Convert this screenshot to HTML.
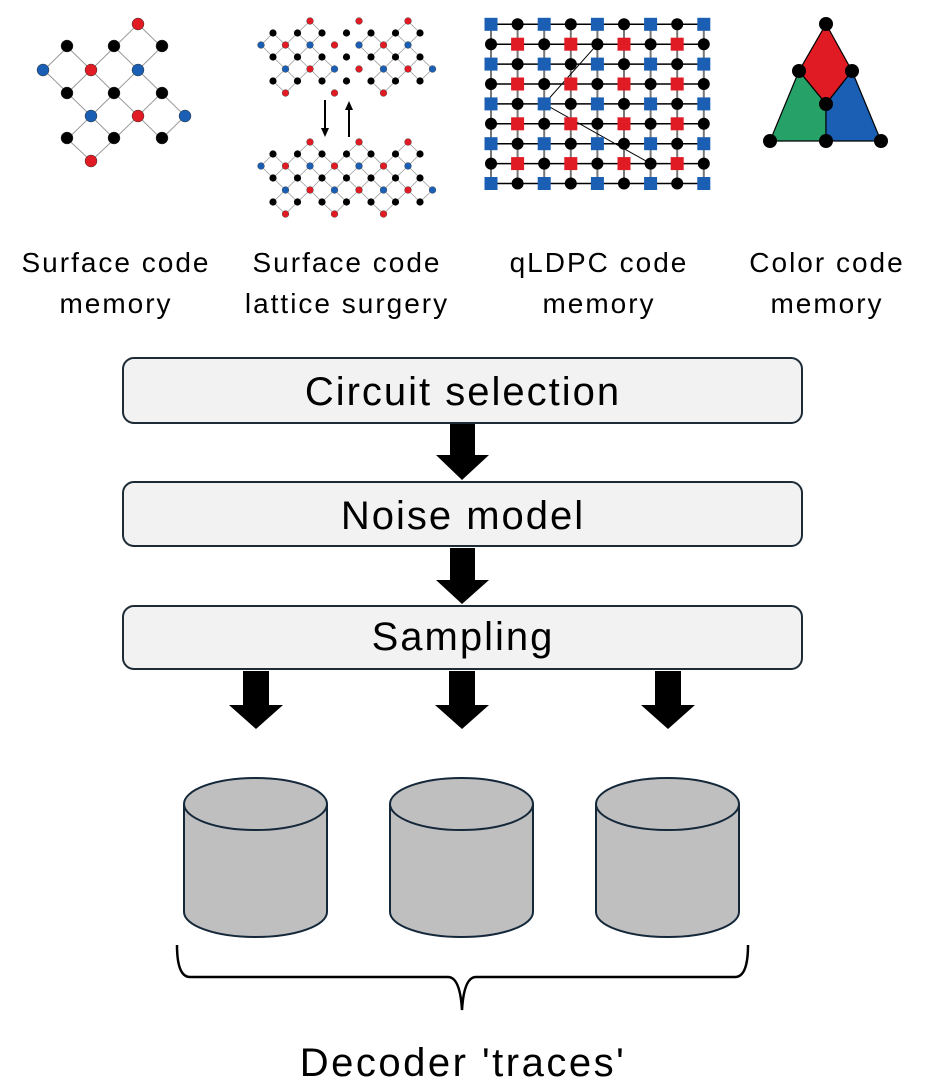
<!DOCTYPE html>
<html><head><meta charset="utf-8"><style>
html,body{margin:0;padding:0;background:#fff;}
svg{display:block;}
text{font-family:"Liberation Sans",sans-serif;fill:#000;}
</style></head><body>
<svg id="s" width="925" height="1085" viewBox="0 0 925 1085" xmlns="http://www.w3.org/2000/svg">
<g stroke="#999" stroke-width="1" fill="none">
<path d="M67.5,47 L114.5,93 M114.5,47 L67.5,93 M114.5,47 L161.5,93 M161.5,47 L114.5,93 M67.5,93 L114.5,139 M114.5,93 L67.5,139 M114.5,93 L161.5,139 M161.5,93 L114.5,139 M114.5,47 L138,24 L161.5,47 M67.5,47 L44,70 L67.5,93 M161.5,93 L185,116 L161.5,139 M67.5,139 L91,161 L114.5,139"/>
</g>
<g stroke="#333" stroke-width="0.5">
<circle cx="138" cy="24" r="6" fill="#e01b24"/>
<circle cx="67" cy="46" r="6" fill="#000"/><circle cx="114" cy="46" r="6" fill="#000"/><circle cx="162" cy="46" r="6" fill="#000"/>
<circle cx="43" cy="70" r="6" fill="#1a5fb4"/><circle cx="91" cy="70" r="6" fill="#e01b24"/><circle cx="138" cy="70" r="6" fill="#1a5fb4"/>
<circle cx="67" cy="93" r="6" fill="#000"/><circle cx="114" cy="93" r="6" fill="#000"/><circle cx="162" cy="93" r="6" fill="#000"/>
<circle cx="91" cy="116" r="6" fill="#1a5fb4"/><circle cx="138" cy="116" r="6" fill="#e01b24"/><circle cx="185" cy="116" r="6" fill="#1a5fb4"/>
<circle cx="67" cy="138" r="6" fill="#000"/><circle cx="114" cy="138" r="6" fill="#000"/><circle cx="162" cy="138" r="6" fill="#000"/>
<circle cx="91" cy="161" r="6" fill="#e01b24"/>
</g>
<g id="ls"></g>
<g stroke="#000" stroke-width="2" fill="#000">
<line x1="325" y1="100" x2="325" y2="130"/><path d="M321,128 L329,128 L325,137 Z" stroke="none"/>
<line x1="349" y1="108" x2="349" y2="137"/><path d="M345,110 L353,110 L349,101 Z" stroke="none"/>
</g>
<g id="ql"></g>
<g stroke="#000" stroke-width="1.2">
<path d="M826,24 L852,71 L826,104 L799,71 Z" fill="#e01b24"/>
<path d="M799,71 L826,104 L826,141 L770,141 Z" fill="#26a269"/>
<path d="M852,71 L881,141 L826,141 L826,104 Z" fill="#1a5fb4"/>
</g>
<g fill="#000">
<circle cx="826" cy="24" r="7"/><circle cx="799" cy="71" r="7"/><circle cx="852" cy="71" r="7"/><circle cx="826" cy="104" r="7"/><circle cx="770" cy="141" r="7"/><circle cx="826" cy="141" r="7"/><circle cx="881" cy="141" r="7"/>
</g>
<g font-size="28" text-anchor="middle" letter-spacing="2">
<text x="116" y="272">Surface code</text><text x="116" y="313">memory</text>
<text x="347" y="272">Surface code</text><text x="347" y="313">lattice surgery</text>
<text x="599" y="272">qLDPC code</text><text x="599" y="313">memory</text>
<text x="827" y="272">Color code</text><text x="827" y="313">memory</text>
</g>
<g fill="#f2f2f2" stroke="#1c2b36" stroke-width="2">
<rect x="123" y="358" width="679" height="65" rx="11"/>
<rect x="123" y="482" width="679" height="64" rx="11"/>
<rect x="123" y="606" width="679" height="63" rx="11"/>
</g>
<g font-size="40" text-anchor="middle" letter-spacing="2">
<text x="463" y="405">Circuit selection</text>
<text x="463" y="529">Noise model</text>
<text x="463" y="650">Sampling</text>
</g>
<g fill="#000">
<path d="M450,424 H475 V455 H489 L462,480 L436,455 H450 Z"/>
<path d="M450,548 H475 V580 H489 L462,604 L436,580 H450 Z"/>
<path d="M243,671 H269 V705 H283 L256,729 L229,705 H243 Z"/>
<path d="M449,671 H475 V705 H489 L462,729 L435,705 H449 Z"/>
<path d="M655,671 H681 V705 H695 L668,729 L641,705 H655 Z"/>
</g>
<g fill="#bfbfbf" stroke="#14283a" stroke-width="2">
<path d="M184,804 V912 A71.5,25 0 0 0 327,912 V804"/><ellipse cx="255.5" cy="804" rx="71.5" ry="26"/>
<path d="M390,804 V912 A71.5,25 0 0 0 533,912 V804"/><ellipse cx="461.5" cy="804" rx="71.5" ry="26"/>
<path d="M596,804 V912 A71.5,25 0 0 0 739,912 V804"/><ellipse cx="667.5" cy="804" rx="71.5" ry="26"/>
</g>
<path d="M177,945 Q177,977 190,977 H448 Q460,977 462,1010 Q464,977 476,977 H735 Q748,977 748,945" fill="none" stroke="#000" stroke-width="2.5"/>
<text x="463" y="1076" font-size="40" text-anchor="middle" letter-spacing="2.5">Decoder 'traces'</text>
</svg>
<script>
var NS="http://www.w3.org/2000/svg";
function el(p,t,a){var e=document.createElementNS(NS,t);for(var k in a)e.setAttribute(k,a[k]);p.appendChild(e);return e;}
var ls=document.getElementById("ls");
function patch(dy,split){
 var anc=[];
 [2,4,6].forEach(function(m){anc.push([m,0,"r"]);});
 for(var m=0;m<=6;m++)anc.push([m,1,m%2?"r":"b"]);
 for(var m=1;m<=7;m++)anc.push([m,2,m%2?"b":"r"]);
 [1,3,5].forEach(function(m){anc.push([m,3,"r"]);});
 var g1=el(ls,"g",{stroke:"#999","stroke-width":"0.8"});
 anc.forEach(function(a){
  var m=a[0],r=a[1];
  if(split&&((m==3&&r==1)||(m==4&&r==2)||(m==4&&r==0)||(m==3&&r==3)))return;
  var ax=261+24.5*m,ay=21+24*r+dy;
  [m-1,m].forEach(function(k){[r-1,r].forEach(function(j){
   if(k<0||k>6||j<0||j>2)return; if(split&&k==3)return;
   el(g1,"line",{x1:ax,y1:ay,x2:273+24.5*k,y2:33+24*j+dy});});});
 });
 for(var k=0;k<=6;k++)for(var j=0;j<=2;j++)el(ls,"circle",{cx:273+24.5*k,cy:33+24*j+dy,r:3.6,fill:"#000"});
 anc.forEach(function(a){el(ls,"circle",{cx:261+24.5*a[0],cy:21+24*a[1]+dy,r:3.4,fill:a[2]=="r"?"#e01b24":"#1a5fb4",stroke:"#333","stroke-width":"0.4"});});
}
patch(0,true);patch(121,false);
var ql=document.getElementById("ql");
var X=function(c){return 491+26.6*c;},Y=function(r){return 24.3+19.9*r;};
for(var c=0;c<9;c++)el(ql,"line",{x1:X(c),y1:Y(0),x2:X(c),y2:Y(8),stroke:"#777","stroke-width":"2"});
for(var r=0;r<9;r++)el(ql,"line",{x1:X(0),y1:Y(r),x2:X(8),y2:Y(r),stroke:"#000","stroke-width":"1.5"});
el(ql,"path",{d:"M"+X(4)+","+Y(1)+" L"+X(2)+","+Y(4)+" L"+X(6)+","+Y(7),stroke:"#000","stroke-width":"1",fill:"none"});
for(var r=0;r<9;r++)for(var c=0;c<9;c++){
 if(r%2==0&&c%2==0)el(ql,"rect",{x:X(c)-6.5,y:Y(r)-6.5,width:13,height:13,fill:"#1a5fb4"});
 else if(r%2==1&&c%2==1)el(ql,"rect",{x:X(c)-6.5,y:Y(r)-6.5,width:13,height:13,fill:"#e01b24"});
 else el(ql,"circle",{cx:X(c),cy:Y(r),r:6,fill:"#000"});
}
</script>
</body></html>
